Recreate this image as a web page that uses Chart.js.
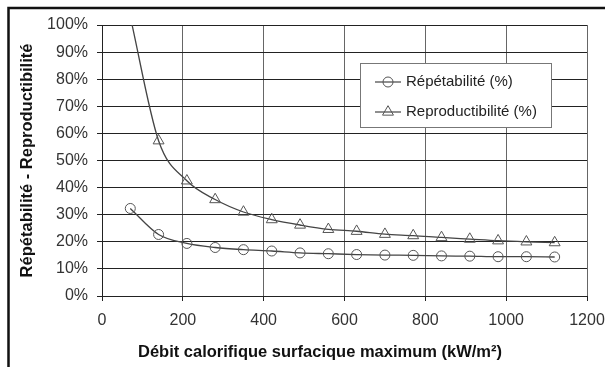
<!DOCTYPE html>
<html lang="fr">
<head>
<meta charset="UTF-8">
<title>Répétabilité - Reproductibilité</title>
<script src="https://cdn.jsdelivr.net/npm/chart.js"></script>
<style>
  html, body { margin: 0; padding: 0; background: #fff; }
  #wrap { width: 605px; height: 367px; position: relative; }
</style>
</head>
<body>
<div id="wrap"><canvas id="chart" width="605" height="367"></canvas></div>
<script>
// data
const debit = [70, 140, 210, 280, 350, 420, 490, 560, 630, 700, 770, 840, 910, 980, 1050, 1120];
const repetabilite = [32.3, 22.7, 19.4, 17.9, 17.1, 16.6, 15.9, 15.6, 15.3, 15.1, 15.0, 14.8, 14.7, 14.5, 14.5, 14.4];
const reproductibilite = [103, 57.3, 42.5, 35.6, 31.0, 28.2, 26.2, 24.6, 23.9, 22.8, 22.3, 21.6, 21.0, 20.4, 20.0, 19.7];
const xTicks = [0, 200, 400, 600, 800, 1000, 1200];
const yTicks = [0, 10, 20, 30, 40, 50, 60, 70, 80, 90, 100];
const seriesNames = ['Répétabilité (%)', 'Reproductibilité (%)'];
const xTitle = 'Débit calorifique surfacique maximum (kW/m²)';

const FONT = '"Liberation Sans", Arial, sans-serif';

function toPoints(ys) {
  return debit.map((x, i) => ({ x: x, y: ys[i] }));
}

// outer frame (top + left edge of the original figure) and the x title,
// which in the original is centred on the whole figure, not on the plot
const framePlugin = {
  id: 'frame',
  afterDraw(chart) {
    const c = chart.ctx;
    c.save();
    c.strokeStyle = '#111';
    c.lineWidth = 2.5;
    c.beginPath();
    c.moveTo(8.5, 367);
    c.lineTo(8.5, 8);
    c.lineTo(605, 8);
    c.stroke();
    c.fillStyle = '#111';
    c.font = 'bold 16.5px ' + FONT;
    c.textAlign = 'center';
    c.textBaseline = 'middle';
    c.fillText(xTitle, 320, 352);
    c.restore();
  }
};

// boxed legend inside the plot, like the original
const boxLegend = {
  id: 'boxLegend',
  afterDatasetsDraw(chart) {
    const c = chart.ctx;
    const x0 = 360, y0 = 63, w = 191, h = 64;
    c.save();
    c.fillStyle = '#fff';
    c.fillRect(x0, y0, w, h);
    c.strokeStyle = '#777';
    c.lineWidth = 1;
    c.strokeRect(x0 + 0.5, y0 + 0.5, w, h);
    chart.data.datasets.forEach((ds, i) => {
      const y = 82 + i * 30;
      c.strokeStyle = ds.borderColor;
      c.lineWidth = 1.2;
      c.beginPath();
      c.moveTo(375, y);
      c.lineTo(401, y);
      c.stroke();
      c.fillStyle = 'rgba(0,0,0,0)';
      c.strokeStyle = ds.pointBorderColor;
      c.lineWidth = 1;
      Chart.helpers.drawPoint(c, {
        pointStyle: ds.pointStyle,
        radius: ds.pointRadius,
        borderWidth: 1
      }, 388, y);
      c.fillStyle = '#222';
      c.font = '15px ' + FONT;
      c.textBaseline = 'middle';
      c.textAlign = 'left';
      c.fillText(seriesNames[i], 406, y);
    });
    c.restore();
  }
};

new Chart(document.getElementById('chart'), {
  type: 'line',
  data: {
    datasets: [
      {
        label: seriesNames[0],
        data: toPoints(repetabilite),
        borderColor: '#444',
        borderWidth: 1.3,
        pointStyle: 'circle',
        pointRadius: 5,
        pointBorderColor: '#555',
        pointBorderWidth: 1,
        pointBackgroundColor: 'rgba(0,0,0,0)',
        cubicInterpolationMode: 'monotone'
      },
      {
        label: seriesNames[1],
        data: toPoints(reproductibilite),
        borderColor: '#444',
        borderWidth: 1.3,
        pointStyle: 'triangle',
        pointRadius: 6.3,
        pointBorderColor: '#555',
        pointBorderWidth: 1,
        pointBackgroundColor: 'rgba(0,0,0,0)',
        cubicInterpolationMode: 'monotone'
      }
    ]
  },
  options: {
    responsive: false,
    animation: false,
    layout: { padding: { left: 10, right: 18, top: 25, bottom: 0 } },
    plugins: {
      legend: { display: false },
      tooltip: { enabled: false }
    },
    scales: {
      x: {
        type: 'linear',
        min: 0,
        max: 1200,
        afterBuildTicks: s => { s.ticks = xTicks.map(v => ({ value: v })); },
        afterFit: s => { s.height = 71; s.paddingLeft = 0; s.paddingRight = 0; },
        grid: { color: '#666', lineWidth: 1, tickLength: 5, tickColor: '#222' },
        border: { color: '#222', width: 1 },
        ticks: {
          color: '#333',
          padding: 10,
          maxRotation: 0,
          font: { family: FONT, size: 16 },
          callback: v => String(v)
        }
      },
      y: {
        min: 0,
        max: 100,
        afterBuildTicks: s => { s.ticks = yTicks.map(v => ({ value: v })); },
        afterFit: s => { s.width = 92; },
        grid: { color: '#222', lineWidth: 1, tickLength: 5, tickColor: '#222' },
        border: { color: '#222', width: 1 },
        ticks: {
          color: '#333',
          padding: 9,
          font: { family: FONT, size: 16 },
          callback: v => v + '%'
        },
        title: {
          display: true,
          text: 'Répétabilité - Reproductibilité',
          color: '#111',
          padding: { top: 8, bottom: 0 },
          font: { family: FONT, size: 16.5, weight: 'bold' }
        }
      }
    }
  },
  plugins: [boxLegend, framePlugin]
});
</script>
</body>
</html>
